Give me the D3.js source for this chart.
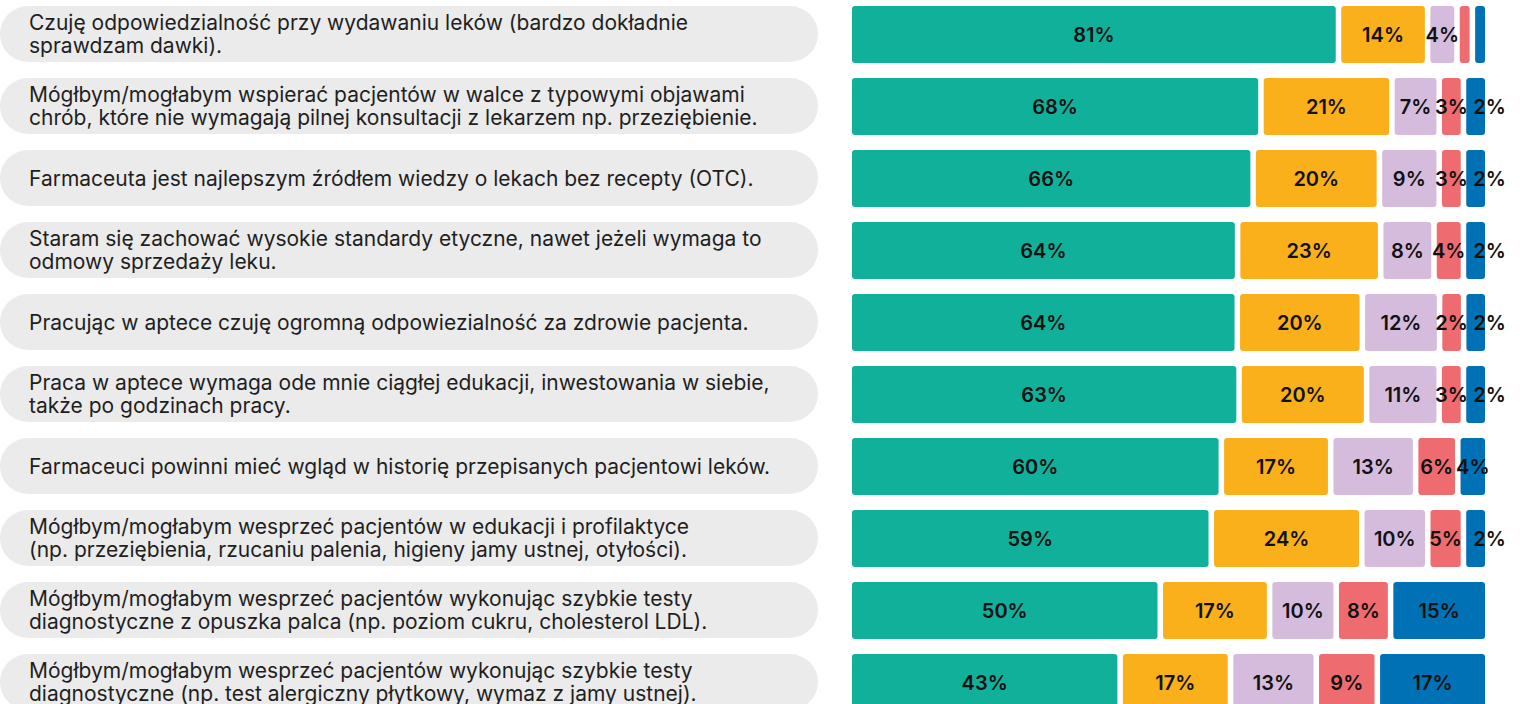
<!DOCTYPE html>
<html>
<head>
<meta charset="utf-8">
<script src="https://cdn.jsdelivr.net/npm/d3@7"></script>
<style>
  body { margin: 0; background: #fff; }
  .stmt { font-family: Inter, Roboto, sans-serif; font-size: 21px; fill: #1f1f1f; }
  .pct { font-family: Inter, Roboto, sans-serif; font-size: 20px; font-weight: 600; fill: #111; }
</style>
</head>
<body>
<div class="chart"></div>
<script>
var statements = [
  "Czuję odpowiedzialność przy wydawaniu leków (bardzo dokładnie\nsprawdzam dawki).",
  "Mógłbym/mogłabym wspierać pacjentów w walce z typowymi objawami\nchrób, które nie wymagają pilnej konsultacji z lekarzem np. przeziębienie.",
  "Farmaceuta jest najlepszym źródłem wiedzy o lekach bez recepty (OTC).",
  "Staram się zachować wysokie standardy etyczne, nawet jeżeli wymaga to\nodmowy sprzedaży leku.",
  "Pracując w aptece czuję ogromną odpowiezialność za zdrowie pacjenta.",
  "Praca w aptece wymaga ode mnie ciągłej edukacji, inwestowania w siebie,\ntakże po godzinach pracy.",
  "Farmaceuci powinni mieć wgląd w historię przepisanych pacjentowi leków.",
  "Mógłbym/mogłabym wesprzeć pacjentów w edukacji i profilaktyce\n(np. przeziębienia, rzucaniu palenia, higieny jamy ustnej, otyłości).",
  "Mógłbym/mogłabym wesprzeć pacjentów wykonując szybkie testy\ndiagnostyczne z opuszka palca (np. poziom cukru, cholesterol LDL).",
  "Mógłbym/mogłabym wesprzeć pacjentów wykonując szybkie testy\ndiagnostyczne (np. test alergiczny płytkowy, wymaz z jamy ustnej)."
];

// answer shares per statement, in %
var s1 = [81, 68, 66, 64, 64, 63, 60, 59, 50, 43];
var s2 = [14, 21, 20, 23, 20, 20, 17, 24, 17, 17];
var s3 = [4, 7, 9, 8, 12, 11, 13, 10, 10, 13];
var s4 = [1, 3, 3, 4, 2, 3, 6, 5, 8, 9];
var s5 = [1, 2, 2, 2, 2, 2, 4, 2, 15, 17];

var colors = ["#11b09a", "#f9b01b", "#d5bcdc", "#ee6c70", "#0071b5"];

var width = 1520, height = 704;
var pillW = 818, barX = 852, barEnd = 1485, gap = 5.5;

var svg = d3.select(".chart").append("svg")
    .attr("width", width)
    .attr("height", height);

var y = d3.scaleBand()
  .domain(d3.range(statements.length))
  .range([6, 711])
  .paddingInner(15 / 72)
  .paddingOuter(0);

var rows = svg.selectAll(".row")
  .data(statements)
  .enter().append("g")
    .attr("class", "row")
    .attr("transform", function (d, i) { return "translate(0," + y(i) + ")"; });

rows.append("rect")
  .attr("x", 0)
  .attr("y", 0)
  .attr("width", pillW)
  .attr("height", y.bandwidth() - 1)
  .attr("rx", 28)
  .style("fill", "#ebebeb");

rows.each(function (d) {
  var lines = d.split("\n");
  var t = d3.select(this).append("text")
    .attr("class", "stmt")
    .attr("x", 29)
    .attr("y", y.bandwidth() / 2 - (lines.length - 1) * 11.5);
  lines.forEach(function (l, j) {
    t.append("tspan").attr("x", 29).attr("dy", j === 0 ? "0.35em" : 23).text(l);
  });
});

rows.each(function (d, i) {
  var vals = [s1[i], s2[i], s3[i], s4[i], s5[i]];
  var total = d3.sum(vals);
  var avail = barEnd - barX - gap * (vals.length - 1);
  var x = d3.scaleLinear().domain([0, total]).range([0, avail]);
  // small answers keep a minimum width, the rest is rescaled to fill the row
  var raw = vals.map(function (v) { return Math.max(x(v), v >= 2 ? 19 : 10); });
  var k = avail / d3.sum(raw);
  var pos = barX, segs = [];
  raw.forEach(function (w, j) {
    segs.push({x: pos, w: w * k, v: vals[j], c: colors[j], last: j === vals.length - 1});
    pos += w * k + gap;
  });

  var g = d3.select(this);
  g.selectAll(".seg")
    .data(segs)
    .enter().append("rect")
      .attr("class", "seg")
      .attr("x", function (s) { return s.x; })
      .attr("y", 0)
      .attr("width", function (s) { return s.w; })
      .attr("height", y.bandwidth())
      .attr("rx", 3)
      .style("fill", function (s) { return s.c; });

  // narrow last segment: label starts inside it and runs past the bar end
  g.selectAll(".pct")
    .data(segs.filter(function (s) { return s.v >= 2; }))
    .enter().append("text")
      .attr("class", "pct")
      .attr("x", function (s) { return s.last && s.w < 22 ? s.x + 7 : s.x + s.w / 2; })
      .attr("y", y.bandwidth() / 2)
      .attr("dy", "0.36em")
      .attr("text-anchor", function (s) { return s.last && s.w < 22 ? "start" : "middle"; })
      .text(function (s) { return s.v + "%"; });
});
</script>
</body>
</html>
